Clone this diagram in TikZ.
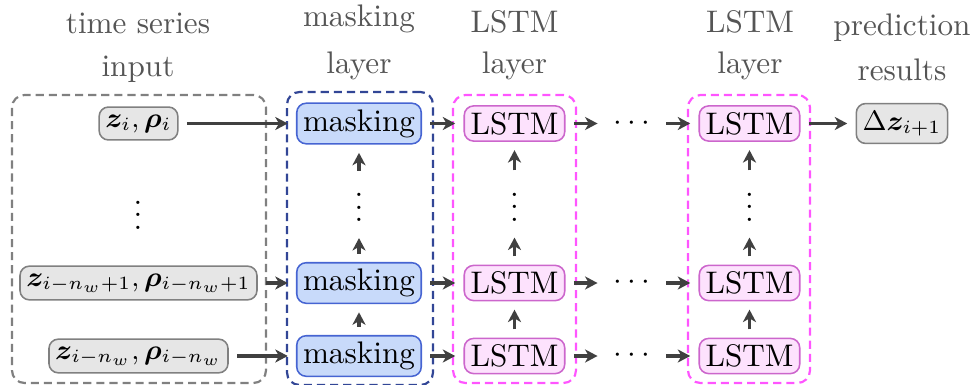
\documentclass[tikz,border=0pt]{standalone}
\usepackage{bm}
\usetikzlibrary{arrows.meta}

\definecolor{infill}{RGB}{230,230,230}
\definecolor{indraw}{RGB}{128,128,128}
\definecolor{mfill}{RGB}{200,218,250}
\definecolor{mdraw}{RGB}{70,100,210}
\definecolor{lfill}{RGB}{253,226,253}
\definecolor{ldraw}{RGB}{204,102,204}
\definecolor{grpgray}{RGB}{128,128,128}
\definecolor{grpblue}{RGB}{50,70,150}
\definecolor{grppink}{RGB}{255,85,255}
\definecolor{headgray}{RGB}{85,85,85}
\definecolor{arrgray}{RGB}{64,64,64}

\begin{document}
\begin{tikzpicture}[x=0.3205pt,y=-0.3205pt,
  box/.style={draw, rounded corners=3pt, inner sep=2pt, outer sep=2.9pt, line width=0.5pt},
  inbox/.style={box, fill=infill, draw=indraw, font=\small, inner xsep=2pt, inner ysep=2.4pt},
  maskbox/.style={box, fill=mfill, draw=mdraw},
  lstmbox/.style={box, fill=lfill, draw=ldraw},
  group/.style={dash pattern=on 2.6pt off 1.6pt, line width=0.7pt, rounded corners=4pt,
                inner sep=0pt, outer sep=0pt},
  head/.style={text=headgray, anchor=base, inner sep=0pt},
  arr/.style={-{Stealth[length=4pt,width=4.2pt,inset=1.2pt]}, line width=1pt, draw=arrgray},
  vdotnode/.style={inner sep=0pt, outer sep=0pt, text height=11.1pt, text depth=0pt,
                   minimum height=21.5pt},
  hdotnode/.style={inner sep=0pt, outer sep=0pt, minimum width=22.1pt}
]
\useasboundingbox (0,0) rectangle (973,385);

% dashed group frames
\node[group, draw=grpgray, minimum width=81.4pt, minimum height=92.3pt] (gin) at (139,239) {};
\node[group, draw=grpblue, minimum width=46.8pt, minimum height=93.9pt] (gmask) at (360,238.5) {};
\node[group, draw=grppink, minimum width=39.4pt, minimum height=92.3pt] (gla) at (514.5,239) {};
\node[group, draw=grppink, minimum width=39.1pt, minimum height=92.3pt] (glb) at (749,239) {};

% column headings
\node[head] (hin1) at (138,33) {time series};
\node[head] (hin2) at (138,77) {input};
\node[head] (hm1) at (359,27) {masking};
\node[head] (hm2) at (359,73) {layer};
\node[head] (hla1) at (514.5,32) {LSTM};
\node[head] (hla2) at (514.5,74) {layer};
\node[head] (hlb1) at (750,32) {LSTM};
\node[head] (hlb2) at (750,74) {layer};
\node[head] (hout1) at (902,35) {prediction};
\node[head] (hout2) at (902,81) {results};

% input window
\node[inbox] (in1) at (138.5,123.5) {$\bm{z}_i, \bm{\rho}_i$};
\node[inbox] (in2) at (138.5,283) {$\bm{z}_{i-n_w+1}, \bm{\rho}_{i-n_w+1}$};
\node[inbox] (in3) at (138.5,356) {$\bm{z}_{i-n_w}, \bm{\rho}_{i-n_w}$};
\node[vdotnode] (vin) at (138,212) {$\vdots$};

% masking layer
\node[maskbox] (m1) at (359,123.5) {masking};
\node[maskbox] (m2) at (359,283) {masking};
\node[maskbox] (m3) at (359,356) {masking};
\node[vdotnode] (vm) at (359,204.5) {$\vdots$};

% first LSTM layer
\node[lstmbox] (la1) at (514.5,123.5) {LSTM};
\node[lstmbox] (la2) at (514.5,283) {LSTM};
\node[lstmbox] (la3) at (514.5,356) {LSTM};
\node[vdotnode] (vla) at (514.5,204) {$\vdots$};

% intermediate layers
\node[hdotnode] (hd1) at (632,123.5) {$\cdots$};
\node[hdotnode] (hd2) at (632,283) {$\cdots$};
\node[hdotnode] (hd3) at (632,356) {$\cdots$};

% last LSTM layer
\node[lstmbox] (lb1) at (749.5,123.5) {LSTM};
\node[lstmbox] (lb2) at (749.5,283) {LSTM};
\node[lstmbox] (lb3) at (749.5,356) {LSTM};
\node[vdotnode] (vlb) at (749.5,204) {$\vdots$};

% output
\node[inbox] (out) at (902,123.5) {$\Delta\bm{z}_{i+1}$};

% horizontal flow
\foreach \r in {1,2,3} {
  \draw[arr] (in\r) -- (m\r);
  \draw[arr] (m\r) -- (la\r);
  \draw[arr] (la\r) -- (hd\r);
  \draw[arr] (hd\r) -- (lb\r);
}
\draw[arr] (lb1) -- (out);

% vertical flow within each layer
\foreach \c in {m,la,lb} {
  \draw[arr] (\c3) -- (\c2);
  \draw[arr] (\c2) -- (v\c);
  \draw[arr] (v\c) -- (\c1);
}
\end{tikzpicture}
\end{document}
